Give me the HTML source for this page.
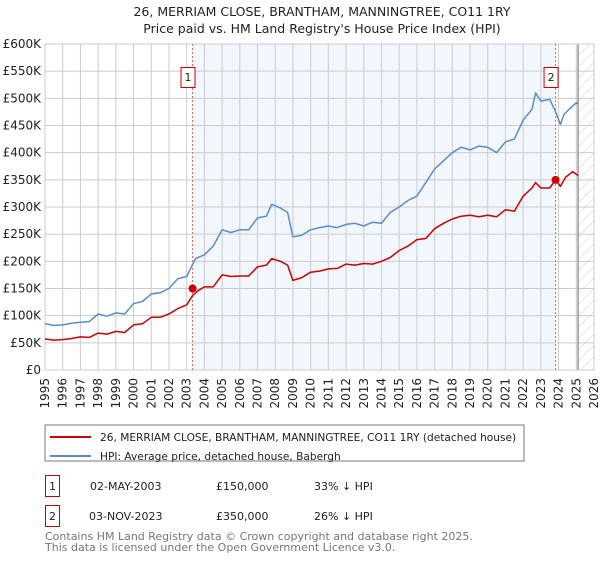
<!DOCTYPE html>
<html><head><meta charset="utf-8"><style>
body{margin:0;background:#fff;font-family:"DejaVu Sans","Liberation Sans",sans-serif;}
svg text{font-family:"DejaVu Sans","Liberation Sans",sans-serif;}
</style></head><body>
<svg width="600" height="560" viewBox="0 0 600 560">
<defs><pattern id="hatch" width="8" height="8" patternUnits="userSpaceOnUse" patternTransform="rotate(45)"><line x1="0" y1="0" x2="0" y2="8" stroke="#d0d0d0" stroke-width="1"/></pattern></defs>
<text x="322" y="16" font-size="12.5" text-anchor="middle" fill="#222">26, MERRIAM CLOSE, BRANTHAM, MANNINGTREE, CO11 1RY</text>
<text x="322" y="33" font-size="12.5" text-anchor="middle" fill="#222">Price paid vs. HM Land Registry's House Price Index (HPI)</text>
<g id="plot"></g>
<rect x="45" y="425" width="479" height="36" fill="#fff" stroke="#777"/>
<line x1="50" y1="437" x2="91" y2="437" stroke="#cc0000" stroke-width="2"/>
<text x="100" y="441" font-size="10.6" fill="#222">26, MERRIAM CLOSE, BRANTHAM, MANNINGTREE, CO11 1RY (detached house)</text>
<line x1="50" y1="456" x2="91" y2="456" stroke="#5b8bd0" stroke-width="2"/>
<text x="100" y="460" font-size="10.6" fill="#222">HPI: Average price, detached house, Babergh</text>
<g font-size="11" fill="#222">
<rect x="45.5" y="475.5" width="14" height="21" fill="none" stroke="#cc0000"/>
<text x="52.5" y="490" text-anchor="middle">1</text>
<text x="90" y="490">02-MAY-2003</text>
<text x="216" y="490">£150,000</text>
<text x="314" y="490">33% ↓ HPI</text>
<rect x="45.5" y="505.5" width="14" height="21" fill="none" stroke="#cc0000"/>
<text x="52.5" y="520" text-anchor="middle">2</text>
<text x="89" y="520">03-NOV-2023</text>
<text x="216" y="520">£350,000</text>
<text x="314" y="520">26% ↓ HPI</text>
</g>
<text x="45" y="540" font-size="11" fill="#777">Contains HM Land Registry data © Crown copyright and database right 2025.</text>
<text x="45" y="551" font-size="11" fill="#777">This data is licensed under the Open Government Licence v3.0.</text>
</svg>
<script>
const hpiYears=[1995,1995.5,1996,1996.5,1997,1997.5,1998,1998.5,1999,1999.5,2000,2000.5,2001,2001.5,2002,2002.5,2003,2003.5,2004,2004.5,2005,2005.5,2006,2006.5,2007,2007.5,2007.8,2008.3,2008.7,2009,2009.5,2010,2010.5,2011,2011.5,2012,2012.5,2013,2013.5,2014,2014.5,2015,2015.5,2016,2016.5,2017,2017.5,2018,2018.5,2019,2019.5,2020,2020.5,2021,2021.5,2022,2022.5,2022.7,2023,2023.5,2023.8,2024.1,2024.3,2024.6,2025,2025.1];
const hpiValues=[85,82,83,86,88,89,103,99,105,103,122,126,140,142,150,168,172,205,212,228,258,253,258,258,280,283,305,298,290,245,248,258,262,265,262,268,270,265,272,270,290,300,312,320,345,370,385,400,410,405,412,410,400,420,425,460,480,510,495,498,478,452,470,480,492,490];
const priceYears=[1995,1995.5,1996,1996.5,1997,1997.5,1998,1998.5,1999,1999.5,2000,2000.5,2001,2001.5,2002,2002.5,2003,2003.33,2003.6,2004,2004.5,2005,2005.5,2006,2006.5,2007,2007.5,2007.8,2008.3,2008.7,2009,2009.5,2010,2010.5,2011,2011.5,2012,2012.5,2013,2013.5,2014,2014.5,2015,2015.5,2016,2016.5,2017,2017.5,2018,2018.5,2019,2019.5,2020,2020.5,2021,2021.5,2022,2022.5,2022.7,2023,2023.5,2023.83,2024.1,2024.4,2024.8,2025.1];
const priceValues=[57,55,56,58,61,60,68,66,71,69,83,85,97,97,103,113,120,137,145,153,153,175,172,173,173,190,193,205,200,193,165,170,180,182,186,187,195,193,196,195,200,207,220,228,240,242,260,270,278,283,285,282,285,282,295,292,320,335,345,335,335,350,338,355,365,358];
const sales=[[2003.33,150],[2023.83,350]];
const yTicks=[0,50,100,150,200,250,300,350,400,450,500,550,600];
const xTicks=[1995,1996,1997,1998,1999,2000,2001,2002,2003,2004,2005,2006,2007,2008,2009,2010,2011,2012,2013,2014,2015,2016,2017,2018,2019,2020,2021,2022,2023,2024,2025,2026];
const X0=45,X1=594,Y0=370,Y1=44;
const xs=y=>X0+(y-1995)/(2026-1995)*(X1-X0);
const ys=v=>Y0-v/600*(Y0-Y1);
const NS="http://www.w3.org/2000/svg";
const g=document.getElementById('plot');
function mk(t,a){const e=document.createElementNS(NS,t);for(const k in a)e.setAttribute(k,a[k]);g.appendChild(e);return e;}
let e;
e=mk('rect',{x:X0,y:Y1,width:X1-X0,height:Y0-Y1,fill:'#fff'});


e=mk('rect',{x:xs(2003.33),y:Y1,width:xs(2023.83)-xs(2003.33),height:Y0-Y1,fill:'#f2f6fd'});


e=mk('rect',{x:xs(2025.1),y:Y1,width:X1-xs(2025.1),height:Y0-Y1,fill:'url(#hatch)'});


yTicks.forEach(v=>{
  e=mk('line',{x1:X0,x2:X1,y1:ys(v),y2:ys(v),stroke:'#ccc','stroke-width':1});
  
  
  e=mk('text',{x:X0-4,y:ys(v)+4,'font-size':12,'text-anchor':'end',fill:'#222'});
  e.textContent=v===0?'£0':'£'+v+'K';
  
  
});
xTicks.forEach(y=>{
  e=mk('line',{x1:xs(y),x2:xs(y),y1:Y1,y2:Y0,stroke:'#ccc','stroke-width':1});
  
  
  e=mk('text',{x:0,y:0,'font-size':12,'text-anchor':'end',fill:'#222',transform:`translate(${xs(y)+4},${Y0+8}) rotate(-90)`});
  e.textContent=y;
  
  
});
e=mk('line',{x1:xs(2025.1),x2:xs(2025.1),y1:Y1,y2:Y0,stroke:'#999','stroke-width':1.5});


e=mk('rect',{x:X0,y:Y1,width:X1-X0,height:Y0-Y1,fill:'none',stroke:'#ccc'});


sales.forEach((s,i)=>{
  e=mk('line',{x1:xs(s[0]),x2:xs(s[0]),y1:Y1,y2:Y0,stroke:'#e66','stroke-width':1,'stroke-dasharray':'2,2'});
  
  
});
function line(xa,va,col,name){
  e=mk('polyline',{points:xa.map((x,i)=>xs(x).toFixed(1)+','+ys(va[i]).toFixed(1)).join(' '),fill:'none',stroke:col,'stroke-width':1.5,'stroke-linejoin':'round'});
  
  
}
line(hpiYears,hpiValues,'#5b8bd0','hpi-line');
line(priceYears,priceValues,'#cc0000','price-line');
sales.forEach((s,i)=>{
  e=mk('circle',{cx:xs(s[0]),cy:ys(s[1]),r:4,fill:'#cc0000'});
  
  
  const bx=xs(s[0])-11;
  e=mk('rect',{x:bx-0.5,y:67.5,width:14,height:20,fill:'#fff',stroke:'#cc0000'});
  
  
  e=mk('text',{x:bx+6.5,y:81,'font-size':11,'text-anchor':'middle',fill:'#222'});
  e.textContent=String(i+1);
  
  
});
</script>
</body></html>
